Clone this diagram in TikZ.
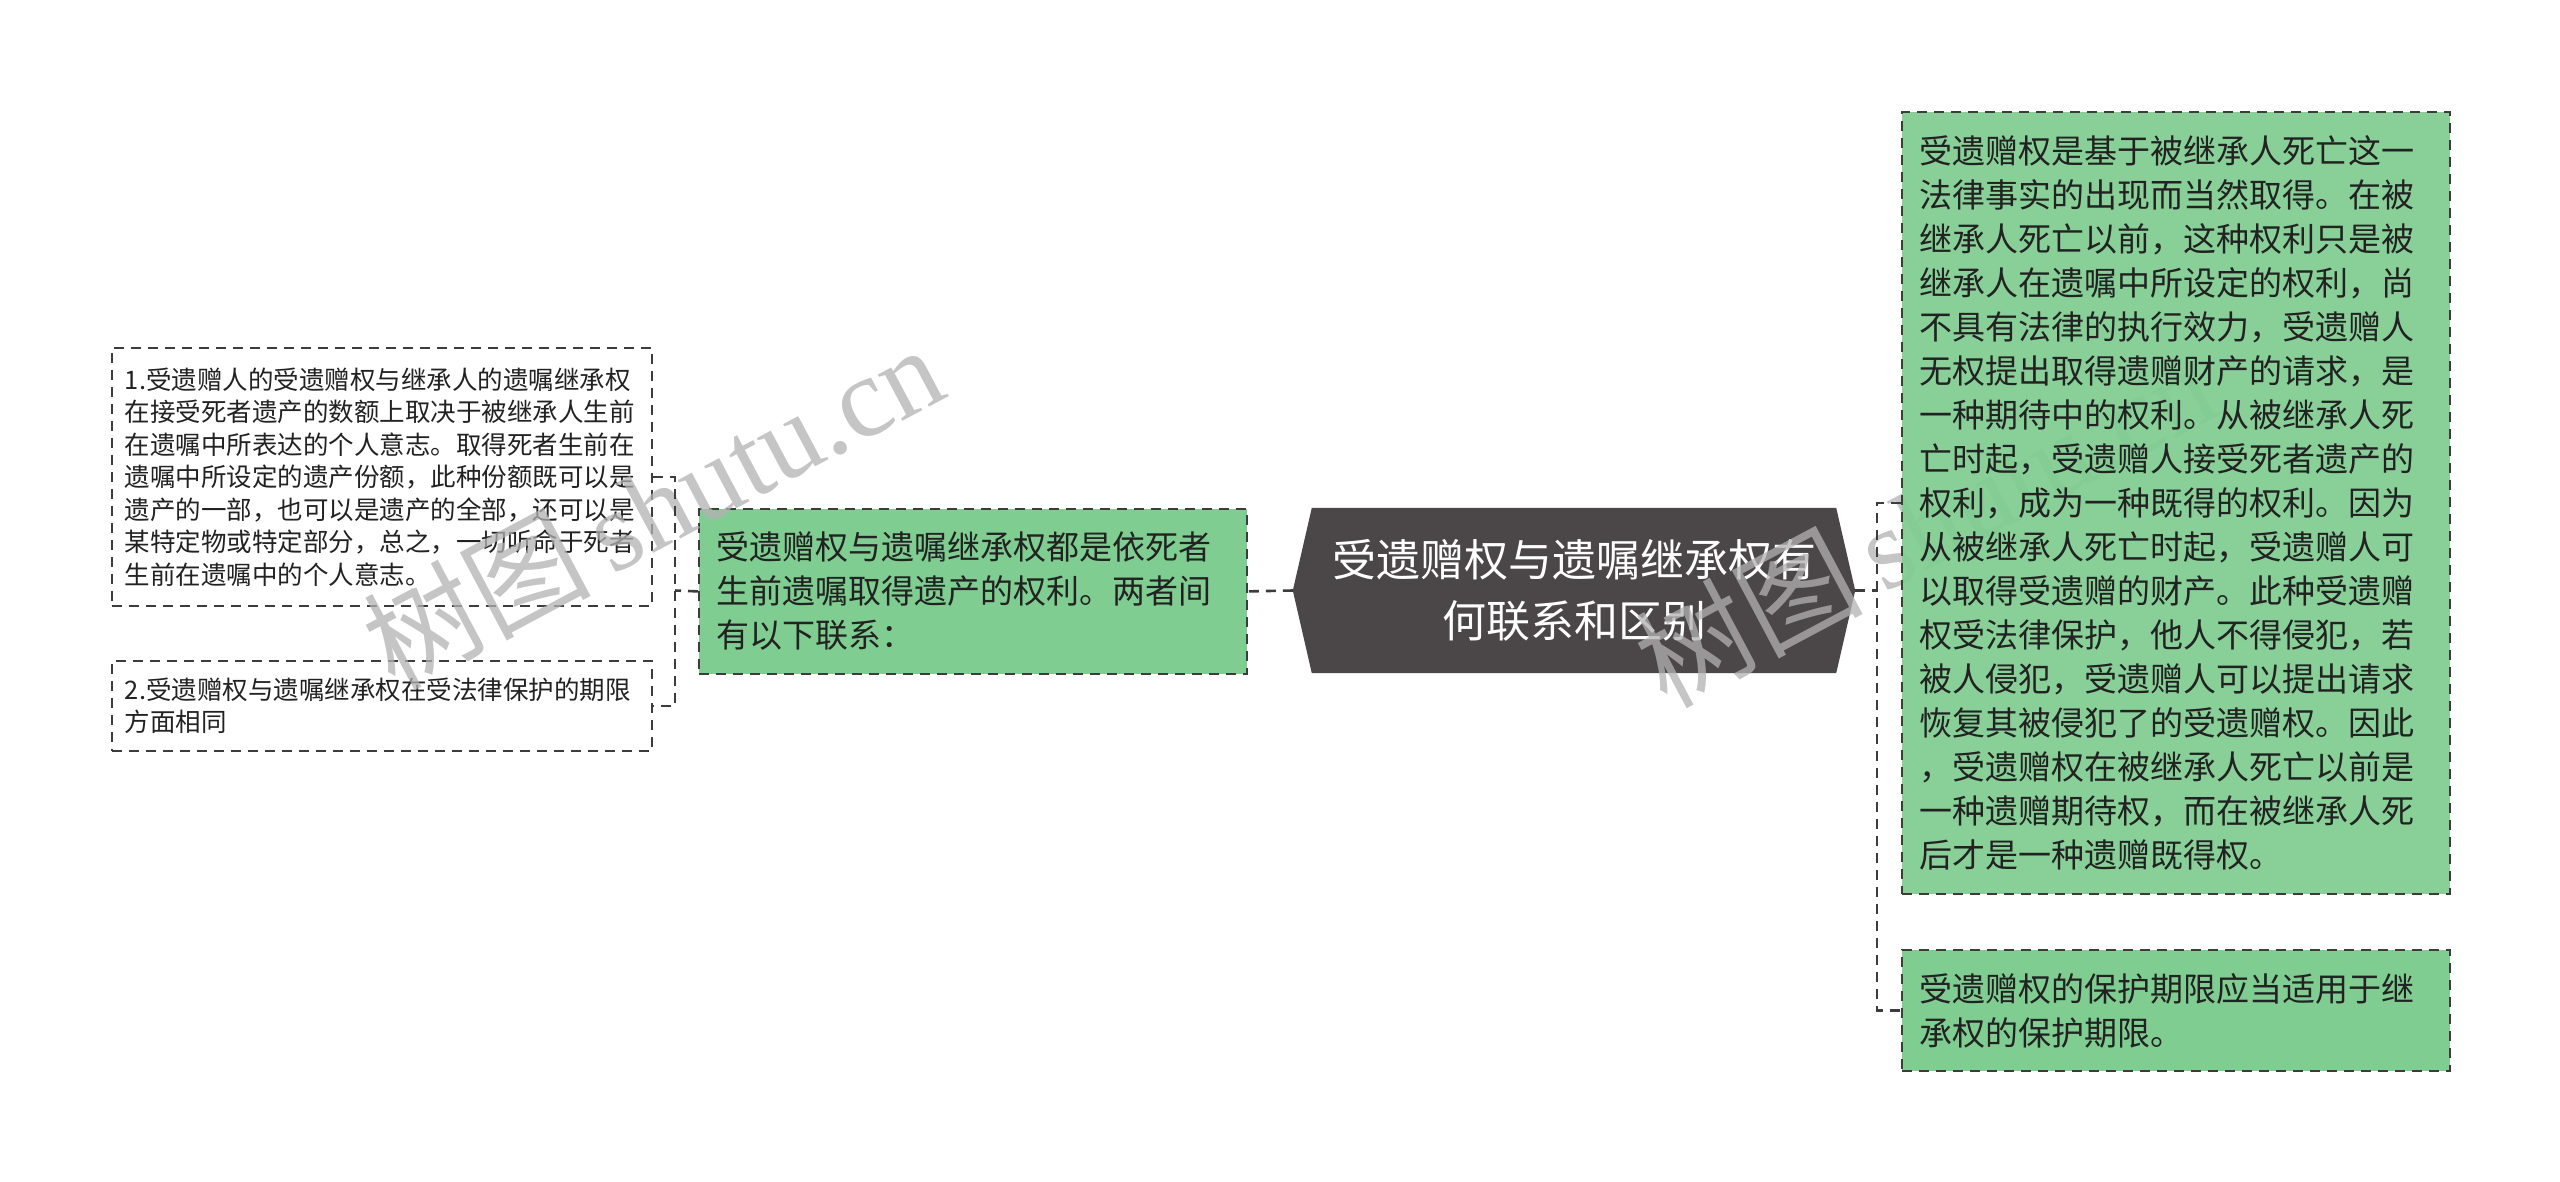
\documentclass[tikz,border=0pt]{standalone}
\usepackage{fontspec}
\setmainfont{Noto Sans CJK SC}
\newfontfamily\wmlatin{Liberation Serif}
\usetikzlibrary{calc,backgrounds}
\definecolor{boxgreen}{RGB}{127,205,145}
\definecolor{hexfill}{RGB}{75,70,71}
\definecolor{linegray}{RGB}{60,60,60}
\definecolor{txt}{RGB}{34,34,34}
\definecolor{wmgray}{RGB}{178,178,178}
\begin{document}
\begin{tikzpicture}[x=1pt,y=-1pt,
  box/.style={draw=linegray, line width=1.8pt, dash pattern=on 10pt off 7pt,
    rectangle, anchor=north west, align=left, text=txt, inner ysep=2pt},
  leftbox/.style={box, fill=white, inner xsep=13pt, text width=514pt,
    font=\fontsize{25.5}{32.5}\selectfont},
  greenbox/.style={box, fill=boxgreen, inner xsep=18pt, text width=512pt,
    font=\fontsize{33}{44}\selectfont},
  hexnode/.style={rectangle, minimum width=562pt, minimum height=165pt,
    inner sep=0pt, align=center, text=white, font=\fontsize{44}{61}\selectfont},
  conn/.style={draw=linegray, line width=2.6pt, dash pattern=on 10pt off 7pt},
  wm/.style={text=wmgray, opacity=0.75, inner sep=0pt, rotate=28,
    font=\fontsize{114}{114}\selectfont}
]
\useasboundingbox (0,0) rectangle (2560,1181);

% left boxes
\node[leftbox, minimum height=258pt] (l1) at (111,347) {1.受遗赠人的受遗赠权与继承人的遗嘱继承权\\
在接受死者遗产的数额上取决于被继承人生前\\
在遗嘱中所表达的个人意志。取得死者生前在\\
遗嘱中所设定的遗产份额，此种份额既可以是\\
遗产的一部，也可以是遗产的全部，还可以是\\
某特定物或特定部分，总之，一切听命于死者\\
生前在遗嘱中的个人意志。};
\node[leftbox, minimum height=90pt] (l2) at (111,660) {2.受遗赠权与遗嘱继承权在受法律保护的期限\\
方面相同};

% middle box
\node[greenbox, minimum height=165pt] (mid) at (698,508) {受遗赠权与遗嘱继承权都是依死者\\
生前遗嘱取得遗产的权利。两者间\\
有以下联系：};

% central hexagon
\node[hexnode] (hex) at (1574,590.5) {受遗赠权与遗嘱继承权有\\何联系和区别};

\begin{pgfonlayer}{background}
\fill[white] (0,0) rectangle (2560,1181);
\fill[hexfill] (hex.west) -- ($(hex.north west)+(19,0)$) -- ($(hex.north east)+(-19,0)$)
  -- (hex.east) -- ($(hex.south east)+(-19,0)$) -- ($(hex.south west)+(19,0)$) -- cycle;
\end{pgfonlayer}

% watermarks
\node[wm] (wm1) at (652,505) {树图\,{\wmlatin shutu.cn}};
\node[wm] (wm2) at (1924,523) {树图\,{\wmlatin shutu.cn}};

% right boxes (drawn over the second watermark, nearly opaque)
\node[greenbox, fill opacity=0.93, text opacity=1, minimum height=782pt] (r1) at (1901,111) {受遗赠权是基于被继承人死亡这一\\
法律事实的出现而当然取得。在被\\
继承人死亡以前，这种权利只是被\\
继承人在遗嘱中所设定的权利，尚\\
不具有法律的执行效力，受遗赠人\\
无权提出取得遗赠财产的请求，是\\
一种期待中的权利。从被继承人死\\
亡时起，受遗赠人接受死者遗产的\\
权利，成为一种既得的权利。因为\\
从被继承人死亡时起，受遗赠人可\\
以取得受遗赠的财产。此种受遗赠\\
权受法律保护，他人不得侵犯，若\\
被人侵犯，受遗赠人可以提出请求\\
恢复其被侵犯了的受遗赠权。因此\\
，受遗赠权在被继承人死亡以前是\\
一种遗赠期待权，而在被继承人死\\
后才是一种遗赠既得权。};
\node[greenbox, minimum height=121pt] (r2) at (1901,949) {受遗赠权的保护期限应当适用于继\\
承权的保护期限。};

% connectors
\coordinate (lj) at (675,590.5);
\coordinate (rj) at (1877,590.5);
\draw[conn] (hex.west) -- (mid.east);
\draw[conn] (mid.west) -- (lj);
\draw[conn] (l1.east) -| (lj) |- (l2.east);
\draw[conn] (hex.east) -- (rj);
\draw[conn] (r1.west) -| (rj) |- (r2.west);
\end{tikzpicture}
\end{document}
